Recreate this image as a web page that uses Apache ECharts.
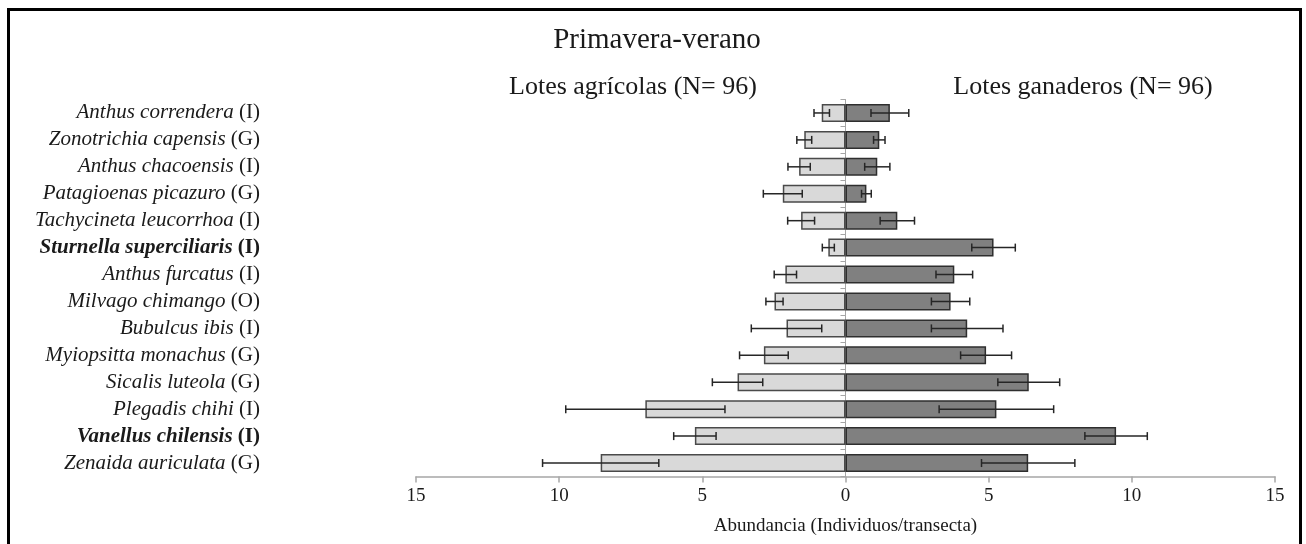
<!DOCTYPE html>
<html>
<head>
<meta charset="utf-8">
<title>Primavera-verano</title>
<script src="https://cdn.jsdelivr.net/npm/echarts@6/dist/echarts.min.js"></script>
<style>
  html, body { margin: 0; padding: 0; background: #ffffff; }
  #chart { width: 1306px; height: 544px; }
</style>
</head>
<body>
<div id="chart"></div>
<script>
// Species (top to bottom) with feeding guild
const species = [
  'Anthus correndera', 'Zonotrichia capensis', 'Anthus chacoensis', 'Patagioenas picazuro',
  'Tachycineta leucorrhoa', 'Sturnella superciliaris', 'Anthus furcatus', 'Milvago chimango',
  'Bubulcus ibis', 'Myiopsitta monachus', 'Sicalis luteola', 'Plegadis chihi',
  'Vanellus chilensis', 'Zenaida auriculata'
];
const guilds = ['I', 'G', 'I', 'G', 'I', 'I', 'I', 'O', 'I', 'G', 'G', 'I', 'I', 'G'];
const highlighted = ['Sturnella superciliaris', 'Vanellus chilensis'];

// Mean abundance (individuals/transect) and standard error
const agricolaMean = [0.83, 1.44, 1.62, 2.19, 1.55, 0.60, 2.10, 2.48, 2.06, 2.85, 3.77, 6.99, 5.26, 8.55];
const agricolaSE   = [0.27, 0.26, 0.39, 0.68, 0.47, 0.21, 0.39, 0.30, 1.23, 0.85, 0.88, 2.78, 0.74, 2.03];
const ganaderoMean = [1.55, 1.18, 1.11, 0.73, 1.81, 5.17, 3.80, 3.67, 4.25, 4.91, 6.40, 5.27, 9.45, 6.38];
const ganaderoSE   = [0.66, 0.20, 0.44, 0.17, 0.60, 0.76, 0.64, 0.67, 1.25, 0.89, 1.08, 2.00, 1.09, 1.63];

const axisTicks = [-15, -10, -5, 0, 5, 10, 15];

const SERIF = '"Liberation Serif", "Times New Roman", Times, serif';
const TEXT = '#1a1a1a';

// Agricultural plots are drawn to the left (negative side)
const leftBars = agricolaMean.map(v => -v);
const leftErr = agricolaMean.map((m, i) => [i, -(m + agricolaSE[i]), -(m - agricolaSE[i])]);
const rightErr = ganaderoMean.map((m, i) => [i, m - ganaderoSE[i], m + ganaderoSE[i]]);

function errorBar(params, api) {
  const idx = api.value(0);
  const a = api.coord([api.value(1), idx]);
  const b = api.coord([api.value(2), idx]);
  const cap = 4;
  const style = { stroke: '#262626', lineWidth: 1.5 };
  return {
    type: 'group',
    children: [
      { type: 'line', shape: { x1: a[0], y1: a[1], x2: b[0], y2: b[1] }, style },
      { type: 'line', shape: { x1: a[0], y1: a[1] - cap, x2: a[0], y2: a[1] + cap }, style },
      { type: 'line', shape: { x1: b[0], y1: b[1] - cap, x2: b[0], y2: b[1] + cap }, style }
    ]
  };
}

const labelOf = (name, i) => {
  if (highlighted.includes(name)) return '{bi|' + name + ' }{b|(' + guilds[i] + ')}';
  return '{i|' + name + ' }{n|(' + guilds[i] + ')}';
};

const chart = echarts.init(document.getElementById('chart'));
chart.setOption({
  animation: false,
  backgroundColor: '#ffffff',
  textStyle: { fontFamily: SERIF },
  graphic: [
    { type: 'rect', shape: { x: 8.5, y: 9.5, width: 1292, height: 545 },
      style: { fill: 'none', stroke: '#000000', lineWidth: 3 }, silent: true },
    { type: 'text', x: 657, y: 40,
      style: { text: 'Primavera-verano', font: '29px ' + SERIF, fill: TEXT, align: 'center', verticalAlign: 'middle' } },
    { type: 'text', x: 633, y: 87,
      style: { text: 'Lotes agrícolas (N= 96)', font: '26px ' + SERIF, fill: TEXT, align: 'center', verticalAlign: 'middle' } },
    { type: 'text', x: 1083, y: 87,
      style: { text: 'Lotes ganaderos (N= 96)', font: '26px ' + SERIF, fill: TEXT, align: 'center', verticalAlign: 'middle' } }
  ],
  grid: { left: 416, right: 31, top: 99.5, bottom: 67.5 },
  xAxis: {
    type: 'value',
    min: axisTicks[0],
    max: axisTicks[axisTicks.length - 1],
    interval: 5,
    splitLine: { show: false },
    axisLine: { show: true, onZero: false, lineStyle: { color: '#a6a6a6', width: 1.5 } },
    axisTick: { show: true, length: 6, lineStyle: { color: '#a6a6a6', width: 1.5 } },
    axisLabel: { margin: 10, fontSize: 19, color: TEXT, fontFamily: SERIF, formatter: v => String(Math.abs(v)) },
    name: 'Abundancia (Individuos/transecta)',
    nameLocation: 'middle',
    nameGap: 40,
    nameTextStyle: { fontSize: 19, color: TEXT, fontFamily: SERIF }
  },
  yAxis: [
    {
      type: 'category',
      data: species,
      inverse: true,
      axisLine: { show: true, onZero: true, lineStyle: { color: '#a6a6a6', width: 1 } },
      axisTick: { show: true, length: 5, lineStyle: { color: '#a6a6a6' } },
      axisLabel: { show: false },
      splitLine: { show: false }
    },
    {
      type: 'category',
      data: species,
      inverse: true,
      position: 'left',
      axisLine: { show: false, onZero: false },
      axisTick: { show: false },
      splitLine: { show: false },
      axisLabel: {
        margin: 156,
        formatter: labelOf,
        rich: {
          i:  { fontSize: 21, fontStyle: 'italic', color: TEXT, fontFamily: SERIF },
          n:  { fontSize: 21, color: TEXT, fontFamily: SERIF },
          bi: { fontSize: 21, fontStyle: 'italic', fontWeight: 'bold', color: TEXT, fontFamily: SERIF },
          b:  { fontSize: 21, fontWeight: 'bold', color: TEXT, fontFamily: SERIF }
        }
      }
    }
  ],
  series: [
    {
      name: 'Lotes agrícolas',
      type: 'bar',
      yAxisIndex: 0,
      data: leftBars,
      barWidth: 18,
      barGap: '-100%',
      itemStyle: { color: '#d9d9d9', borderColor: '#4a4a4a', borderWidth: 1.5 }
    },
    {
      name: 'Lotes ganaderos',
      type: 'bar',
      yAxisIndex: 0,
      data: ganaderoMean,
      barWidth: 18,
      barGap: '-100%',
      itemStyle: { color: '#808080', borderColor: '#2e2e2e', borderWidth: 1.5 }
    },
    {
      type: 'custom',
      yAxisIndex: 0,
      renderItem: errorBar,
      data: leftErr,
      encode: { x: [1, 2], y: 0 },
      z: 5
    },
    {
      type: 'custom',
      yAxisIndex: 0,
      renderItem: errorBar,
      data: rightErr,
      encode: { x: [1, 2], y: 0 },
      z: 5
    }
  ]
});
</script>
</body>
</html>
